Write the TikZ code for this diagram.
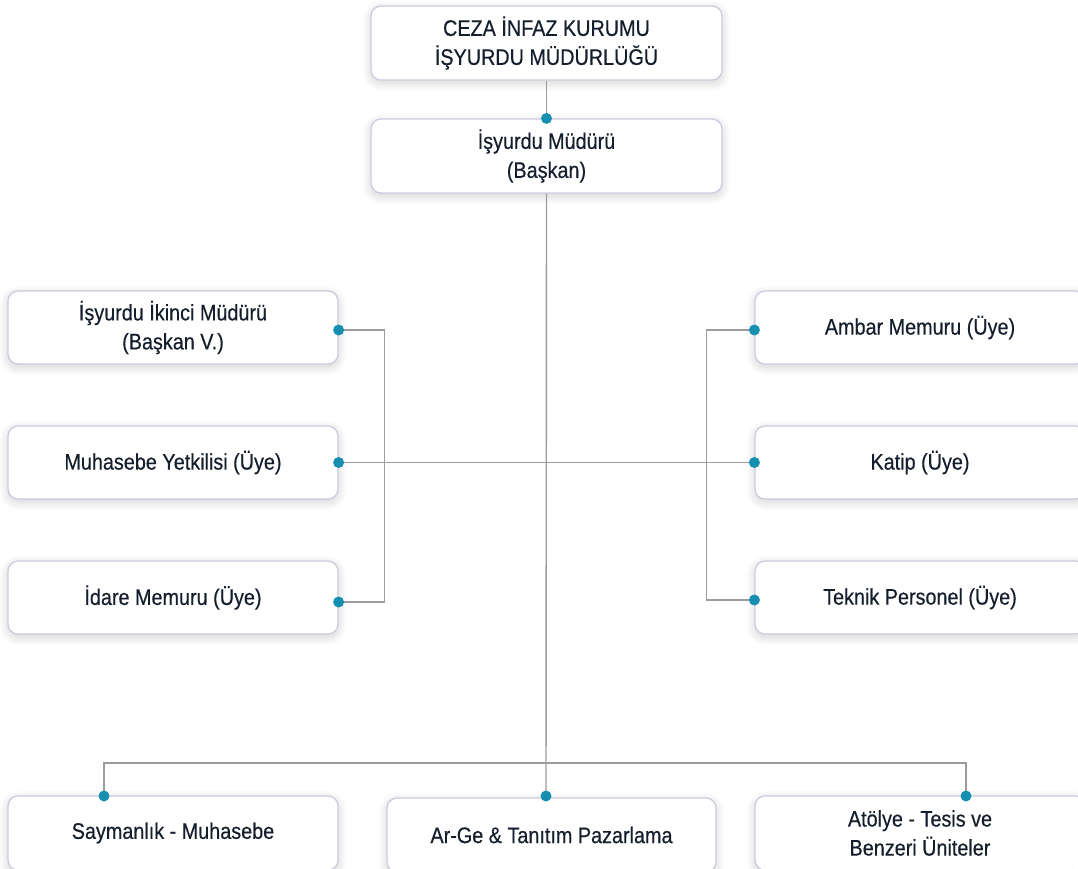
\documentclass[tikz,border=0pt]{standalone}
\usepackage{fontspec}
\setmainfont[FakeStretch=0.88,FakeBold=0.35]{Liberation Sans}
\usetikzlibrary{shadows.blur}
\definecolor{txt}{HTML}{141E2C}
\definecolor{bord}{HTML}{C9CBDD}
\definecolor{lin}{HTML}{9C9C9C}
\definecolor{dotc}{HTML}{168FB0}
\tikzset{
  box/.style={draw=bord, line width=1.2pt, fill=white, rounded corners=10pt,
    align=center, text=txt, font=\fontsize{22.5}{29}\selectfont,
    blur shadow={shadow xshift=0pt, shadow yshift=-3pt, shadow blur steps=8, shadow blur radius=9pt, shadow opacity=18}},
  conn/.style={draw=lin, line width=1.4pt},
  pt/.style={fill=dotc}
}
\begin{document}
\begin{tikzpicture}[x=1pt,y=-1pt]
\useasboundingbox (0,0) rectangle (1078,868);
\node[box, minimum width=351pt, minimum height=74pt] (top) at (546.5,43) {CEZA İNFAZ KURUMU\\İŞYURDU MÜDÜRLÜĞÜ};
\node[box, minimum width=351pt, minimum height=74pt] (mgr) at (546.5,156) {İşyurdu Müdürü\\(Başkan)};
\node[box, minimum width=330pt, minimum height=73pt] (ikinci) at (173,327.5) {İşyurdu İkinci Müdürü\\(Başkan V.)};
\node[box, minimum width=330pt, minimum height=73pt] (muh) at (173,462.5) {Muhasebe Yetkilisi (Üye)};
\node[box, minimum width=330pt, minimum height=73pt] (idare) at (173,597.5) {İdare Memuru (Üye)};
\node[box, minimum width=330pt, minimum height=73pt] (ambar) at (920,327.5) {Ambar Memuru (Üye)};
\node[box, minimum width=330pt, minimum height=73pt] (katip) at (920,462.5) {Katip (Üye)};
\node[box, minimum width=330pt, minimum height=73pt] (teknik) at (920,597.5) {Teknik Personel (Üye)};
\node[box, minimum width=330pt, minimum height=74pt] (saym) at (173,833) {Saymanlık - Muhasebe};
\node[box, minimum width=329pt, minimum height=74pt] (arge) at (551.5,835) {Ar-Ge \& Tanıtım Pazarlama};
\node[box, minimum width=330pt, minimum height=74pt] (atol) at (920,833) {Atölye - Tesis ve\\ Benzeri Üniteler};
\draw[conn] (top.south) -- (mgr.north);
\draw[conn] (mgr.south) -- (546,796);
\draw[conn] (muh.east) -- (katip.west);
\draw[conn] ([yshift=-2.5pt]ikinci.east) -- ++(46,0) |- ([yshift=-4.5pt]idare.east);
\draw[conn] ([yshift=-2.5pt]ambar.west) -- ++(-48,0) |- ([yshift=-2.5pt]teknik.west);
\coordinate (sl) at (104,796);
\coordinate (sr) at (966,796);
\coordinate (sm) at (546,796);
\draw[conn] (sl) -- (104,763) -- (966,763) -- (sr);
\foreach \p in {mgr.north, muh.east, katip.west, sl, sr, sm}
  \fill[pt] (\p) circle (5.5pt);
\fill[pt] ([yshift=-2.5pt]ikinci.east) circle (5.5pt);
\fill[pt] ([yshift=-4.5pt]idare.east) circle (5.5pt);
\fill[pt] ([yshift=-2.5pt]ambar.west) circle (5.5pt);
\fill[pt] ([yshift=-2.5pt]teknik.west) circle (5.5pt);
\end{tikzpicture}
\end{document}
